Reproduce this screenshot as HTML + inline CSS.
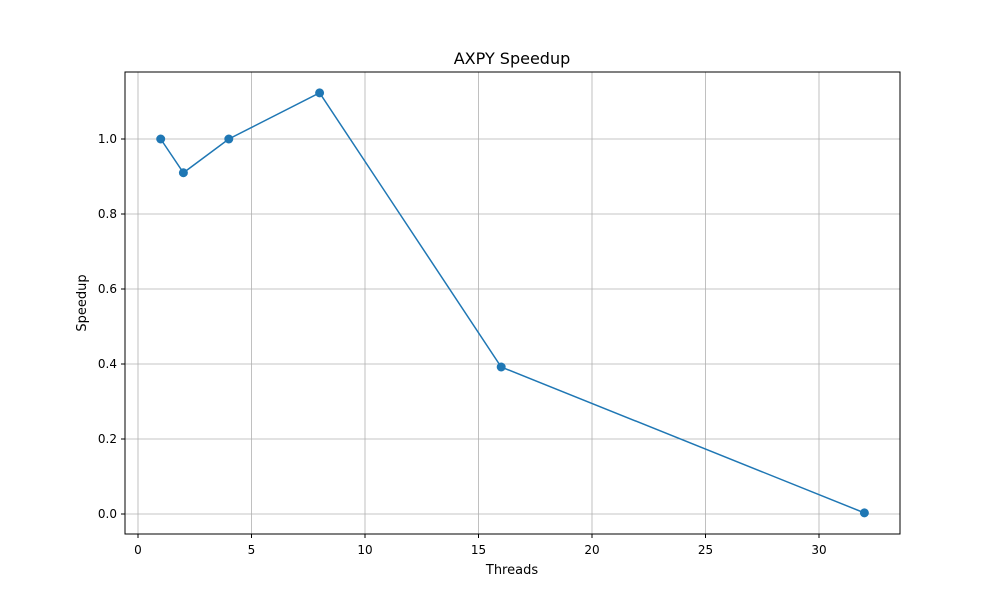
<!DOCTYPE html>
<html><head><meta charset="utf-8"><style>
body{margin:0;background:#fff;font-family:"DejaVu Sans","Liberation Sans",sans-serif;}
svg text{font-family:"DejaVu Sans","Liberation Sans",sans-serif;}
</style></head><body>
<svg id="chart" width="1000" height="600" xmlns="http://www.w3.org/2000/svg">
<rect width="1000" height="600" fill="#fff"/>
<g id="grid"></g>
<g id="ticks"></g>
<g id="series"></g>
<rect x="125" y="72" width="775" height="462" fill="none" stroke="#000" stroke-width="1"/>
<text x="512" y="64" font-size="16" text-anchor="middle">AXPY Speedup</text>
<text x="512" y="574" font-size="13" text-anchor="middle">Threads</text>
<text x="86" y="303" font-size="13" text-anchor="middle" transform="rotate(-90 86 303)">Speedup</text>
</svg>
<script>
const threads=[1,2,4,8,16,32];
const speedup=[1.0,0.91,1.0,1.123,0.392,0.003];
const xTicks=[0,5,10,15,20,25,30];
const yTicks=[0.0,0.2,0.4,0.6,0.8,1.0];
const NS="http://www.w3.org/2000/svg";
function X(v){return 138+v*22.7;}
function Y(v){return 514-v*375;}
function mk(t,a,p){const e=document.createElementNS(NS,t);for(const k in a)e.setAttribute(k,a[k]);p.appendChild(e);return e;}
const grid=document.getElementById('grid'),ticks=document.getElementById('ticks'),series=document.getElementById('series');
xTicks.forEach(v=>{
 const g=mk('line',{x1:X(v),x2:X(v),y1:72,y2:534,stroke:'#b0b0b0','stroke-width':0.8},grid);
 
 
 mk('line',{x1:X(v),x2:X(v),y1:534,y2:538,stroke:'#000'},ticks);
 const t=mk('text',{x:X(v),y:554,'font-size':12,'text-anchor':'middle'},ticks);
 t.textContent=v;
 
 
});
yTicks.forEach(v=>{
 const g=mk('line',{x1:125,x2:900,y1:Y(v),y2:Y(v),stroke:'#b0b0b0','stroke-width':0.8},grid);
 
 
 mk('line',{x1:121,x2:125,y1:Y(v),y2:Y(v),stroke:'#000'},ticks);
 const t=mk('text',{x:117,y:Y(v)+4,'font-size':12,'text-anchor':'end'},ticks);
 t.textContent=v.toFixed(1);
 
 
});
const pl=mk('polyline',{points:threads.map((t,i)=>X(t)+','+Y(speedup[i])).join(' '),fill:'none',stroke:'#1f77b4','stroke-width':1.5},series);


threads.forEach((t,i)=>{
 const c=mk('circle',{cx:X(t),cy:Y(speedup[i]),r:4.5,fill:'#1f77b4'},series);
 
 
});
</script>
</body></html>
